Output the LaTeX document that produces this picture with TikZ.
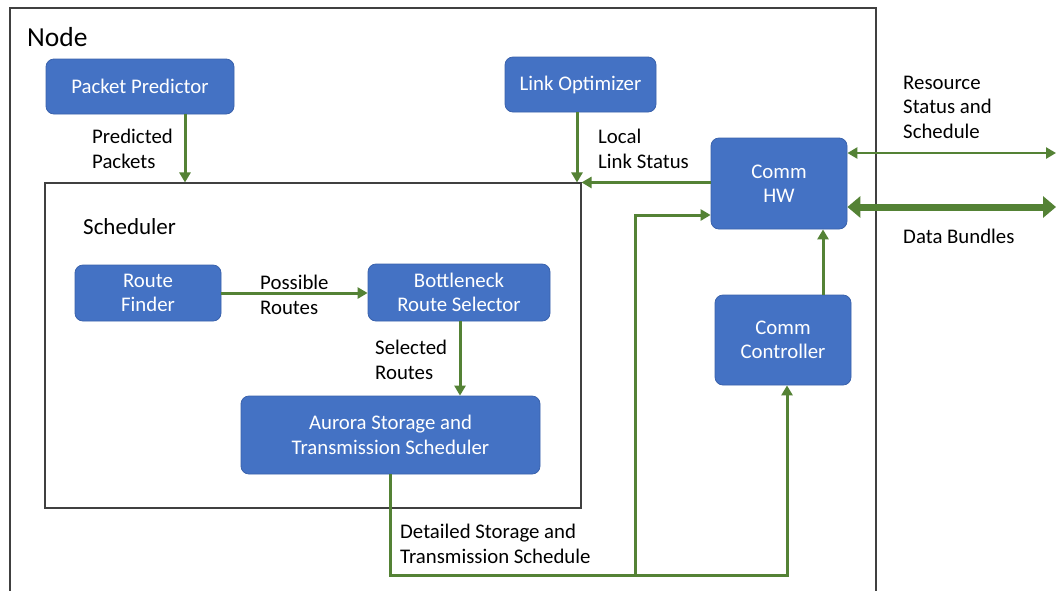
\documentclass[tikz,border=0pt]{standalone}
\usepackage{fontspec}
\setmainfont{Carlito}
\usetikzlibrary{arrows.meta}
\definecolor{boxblue}{HTML}{4472C4}
\definecolor{boxedge}{HTML}{3A62AC}
\definecolor{arrgreen}{HTML}{548235}
\definecolor{frame}{HTML}{404040}
\begin{document}
\begin{tikzpicture}[x=1pt,y=-1pt,
  blk/.style={draw=boxedge, line width=0.8pt, fill=boxblue, rounded corners=8pt, text=white, align=center,
    font=\fontsize{20.8}{24.5}\selectfont, inner sep=0pt},
  lbl/.style={align=left, anchor=west, font=\fontsize{20.8}{24.5}\selectfont, inner sep=0pt},
  flow/.style={draw=arrgreen, line width=3pt, -{Triangle[length=10pt,width=11pt]}},
  thinbi/.style={draw=arrgreen, line width=2.8pt, {Triangle[length=10pt,width=11pt]}-{Triangle[length=10pt,width=11pt]}},
  thickbi/.style={draw=arrgreen, line width=7pt, {Triangle[length=13pt,width=21pt]}-{Triangle[length=13pt,width=21pt]}},
  framebox/.style={draw=frame, line width=1.1pt}
]
\useasboundingbox (0,0) rectangle (1056,590);
\fill[white] (0,0) rectangle (1056,590);
% outer node frame
\draw[framebox] (10,592) -- (10,8) -- (876,8) -- (876,592);
\node[anchor=west, inner sep=0pt, font=\fontsize{27.5}{32}\selectfont] (title) at (27,37) {Node};

% scheduler frame
\node[framebox, minimum width=536pt, minimum height=325pt, inner sep=0pt] (sched) at (313,345.5) {};
\node[anchor=west, inner sep=0pt, font=\fontsize{23}{27}\selectfont] (schedlbl) at (83,227) {Scheduler};

% blocks
\node[blk, minimum width=188pt, minimum height=55pt] (pp) at (140,86.5) {Packet Predictor};
\node[blk, minimum width=151pt, minimum height=55pt] (lo) at (580.5,84.5) {Link Optimizer};
\node[blk, minimum width=146pt, minimum height=56pt] (rf) at (148,293) {Route\\Finder};
\node[blk, minimum width=182pt, minimum height=57pt] (bn) at (459,292.5) {Bottleneck\\Route Selector};
\node[blk, minimum width=299pt, minimum height=78pt] (ast) at (390.5,435) {Aurora Storage and\\Transmission Scheduler};
\node[blk, minimum width=136pt, minimum height=91pt] (hw) at (779,183.5) {Comm\\HW};
\node[blk, minimum width=136pt, minimum height=90pt] (cc) at (783,340) {Comm\\Controller};

% connectors
\draw[flow] (185,0 |- pp.south) -- (185,0 |- sched.north);
\draw[flow] (577,0 |- lo.south) -- (577,0 |- sched.north);
\draw[flow] (hw.west |- sched.north east) -- (sched.north east);
\draw[flow] (rf.east) -- (rf.east -| bn.west);
\draw[flow] (460,0 |- bn.south) -- (460,0 |- ast.north);
\coordinate (j) at (635,575);
\draw[flow] (ast.south) |- (j) |- (hw.west |- 0,215);
\draw[flow] (j) -| (787,0 |- cc.south);
\draw[flow] (823,0 |- cc.north) -- (823,0 |- hw.south);
\coordinate (rs) at (1056,153);
\coordinate (db) at (1056,207);
\draw[thinbi] (hw.east |- rs) -- (rs);
\draw[thickbi] (hw.east |- db) -- (db);

% labels
\node[lbl] (l1) at (92,149) {Predicted\\Packets};
\node[lbl] (l2) at (598,149) {Local\\Link Status};
\node[lbl] (l3) at (260,295) {Possible\\Routes};
\node[lbl] (l4) at (375,360) {Selected\\Routes};
\node[lbl] (l5) at (400,544) {Detailed Storage and\\Transmission Schedule};
\node[lbl] (l6) at (903,107) {Resource\\Status and\\Schedule};
\node[lbl] (l7) at (903,236) {Data Bundles};
\end{tikzpicture}
\end{document}
